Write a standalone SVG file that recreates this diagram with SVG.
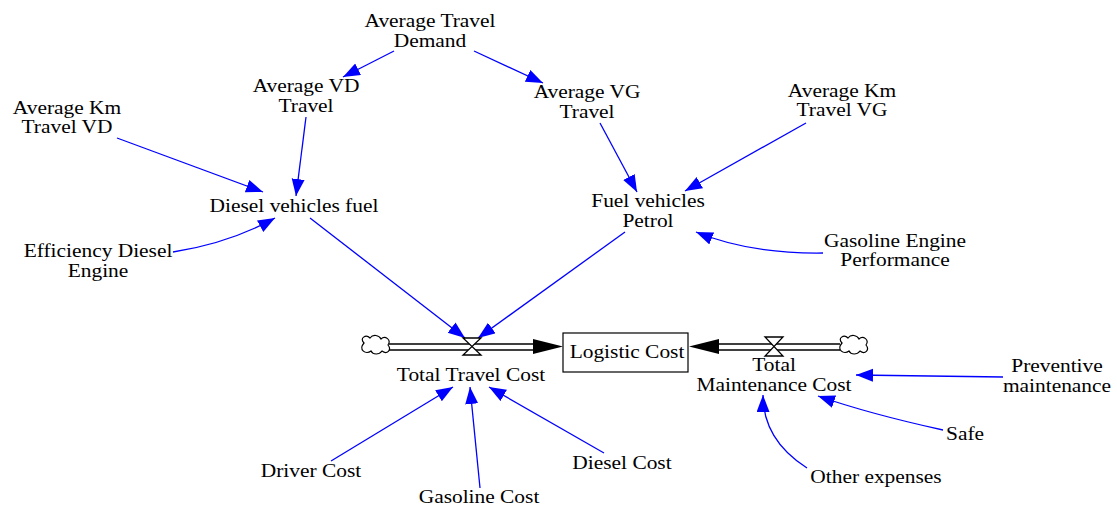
<svg xmlns="http://www.w3.org/2000/svg" width="1117" height="507" viewBox="0 0 1117 507">
<style>
.t{font-family:"Liberation Serif","Times New Roman",serif;font-size:18px;fill:#000;text-anchor:middle}
.c{fill:none;stroke:#0000ff;stroke-width:1.3;marker-end:url(#ab)}
.pipe{stroke:#000;stroke-width:1.3;fill:none}
.cloud{fill:#fff;stroke:#000;stroke-width:1.2}
.valve{fill:#fff;stroke:#000;stroke-width:1.3}
</style>
<defs>
<marker id="ab" markerUnits="userSpaceOnUse" markerWidth="18" markerHeight="14" refX="17" refY="6.5" orient="auto">
<path d="M0,0 L17,6.5 L0,13 Z" fill="#0000ff"/>
</marker>
<path id="cl" d="M-11,-2 C-16,-7 -9,-11 -5,-7 C-2,-11 4,-10 6,-6 C10,-10 17,-5 13,0 C17,5 12,10 7,6 C4,10 -2,10 -4,6 C-9,10 -17,5 -11,-2 Z"/>
</defs>
<rect width="1117" height="507" fill="#fff"/>

<g id="connectors">
<path class="c" d="M394,51 L343,77"/>
<path class="c" d="M474,51 L543,83"/>
<path class="c" d="M306,117 L296,196"/>
<path class="c" d="M117,138 L263,192"/>
<path class="c" d="M173,252 Q230,243 275,218"/>
<path class="c" d="M310,218 L465,338"/>
<path class="c" d="M625,232 L478,338"/>
<path class="c" d="M600,123 L637,192"/>
<path class="c" d="M806,123 L685,191"/>
<path class="c" d="M823,253 Q750,254 696,232"/>
<path class="c" d="M331,461 L453,387"/>
<path class="c" d="M480,488 L470,387"/>
<path class="c" d="M604,453 L489,387"/>
<path class="c" d="M1003,377 L856,375"/>
<path class="c" d="M943,430 Q870,414 818,396"/>
<path class="c" d="M807,468 Q763,440 763,395"/>
</g>

<g id="flow-total-travel-cost">
<use href="#cl" x="375" y="345" class="cloud"/>
<path class="pipe" d="M389,344 H534 M389,350 H534"/>
<path d="M533,339 L563,346.5 L533,354 Z" fill="#000"/>
<path class="valve" d="M463,338 H481 L463,355 H481 Z"/>
</g>

<g id="flow-total-maintenance-cost">
<use href="#cl" x="853" y="345" class="cloud"/>
<path class="pipe" d="M718,344 H840 M718,350 H840"/>
<path d="M719,339 L689,346.5 L719,354 Z" fill="#000"/>
<path class="valve" d="M765,337 H783 L765,356 H783 Z"/>
</g>

<g id="logistic-cost">
<rect x="563" y="333" width="125" height="39" fill="#fff" stroke="#000" stroke-width="1.2"/>
<text class="t" transform="translate(627,358) scale(1.19,1)">Logistic Cost</text>
</g>

<g id="average-travel-demand"><text class="t" transform="translate(430,27) scale(1.19,1)"><tspan x="0">Average Travel</tspan><tspan x="0" dy="20">Demand</tspan></text></g>
<g id="average-vd-travel"><text class="t" transform="translate(306,92) scale(1.19,1)"><tspan x="0">Average VD</tspan><tspan x="0" dy="20">Travel</tspan></text></g>
<g id="average-vg-travel"><text class="t" transform="translate(587,98) scale(1.19,1)"><tspan x="0">Average VG</tspan><tspan x="0" dy="20">Travel</tspan></text></g>
<g id="average-km-travel-vd"><text class="t" transform="translate(67,114) scale(1.19,1)"><tspan x="0">Average Km</tspan><tspan x="0" dy="19.5">Travel VD</tspan></text></g>
<g id="average-km-travel-vg"><text class="t" transform="translate(842,97) scale(1.19,1)"><tspan x="0">Average Km</tspan><tspan x="0" dy="19.5">Travel VG</tspan></text></g>
<g id="diesel-vehicles-fuel"><text class="t" transform="translate(294,212) scale(1.19,1)">Diesel vehicles fuel</text></g>
<g id="efficiency-diesel-engine"><text class="t" transform="translate(98,257) scale(1.19,1)"><tspan x="0">Efficiency Diesel</tspan><tspan x="0" dy="20">Engine</tspan></text></g>
<g id="fuel-vehicles-petrol"><text class="t" transform="translate(648,207) scale(1.19,1)"><tspan x="0">Fuel vehicles</tspan><tspan x="0" dy="20">Petrol</tspan></text></g>
<g id="gasoline-engine-performance"><text class="t" transform="translate(895,247) scale(1.19,1)"><tspan x="0">Gasoline Engine</tspan><tspan x="0" dy="19.5">Performance</tspan></text></g>
<g id="total-travel-cost"><text class="t" transform="translate(471,381) scale(1.19,1)">Total Travel Cost</text></g>
<g id="total-maintenance-cost"><text class="t" transform="translate(774,371) scale(1.19,1)"><tspan x="0">Total</tspan><tspan x="0" dy="20">Maintenance Cost</tspan></text></g>
<g id="preventive-maintenance"><text class="t" transform="translate(1057,372) scale(1.19,1)"><tspan x="0">Preventive</tspan><tspan x="0" dy="20">maintenance</tspan></text></g>
<g id="safe"><text class="t" transform="translate(965,440) scale(1.19,1)">Safe</text></g>
<g id="other-expenses"><text class="t" transform="translate(876,483) scale(1.19,1)">Other expenses</text></g>
<g id="driver-cost"><text class="t" transform="translate(311,477) scale(1.19,1)">Driver Cost</text></g>
<g id="gasoline-cost"><text class="t" transform="translate(479,503) scale(1.19,1)">Gasoline Cost</text></g>
<g id="diesel-cost"><text class="t" transform="translate(622,469) scale(1.19,1)">Diesel Cost</text></g>
</svg>
